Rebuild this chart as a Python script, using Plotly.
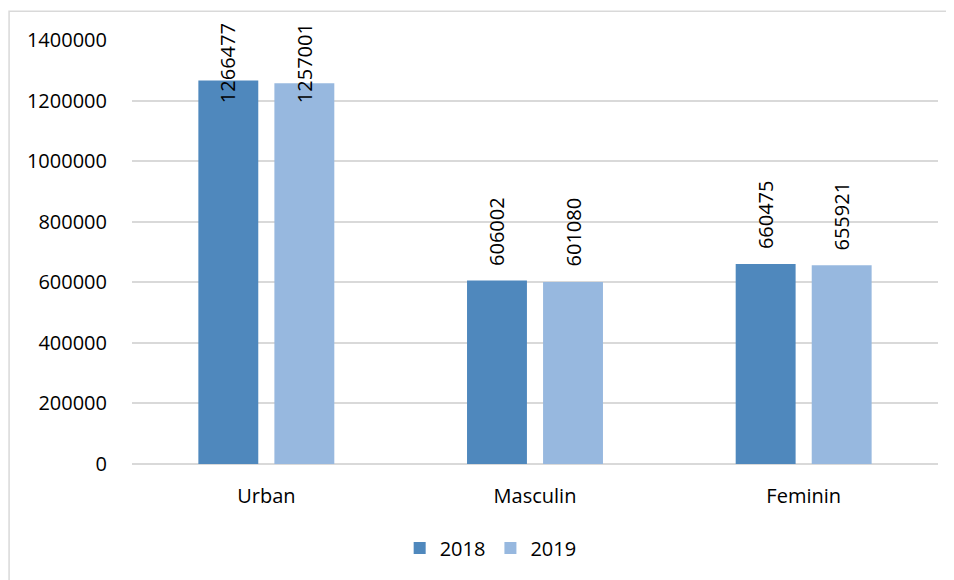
import plotly.graph_objects as go

categories = ["Urban", "Masculin", "Feminin"]
years = ["2018", "2019"]
values_2018 = [1266477, 606002, 660475]
values_2019 = [1257001, 601080, 655921]

colors = {"2018": "#4F88BD", "2019": "#97B8DF"}
FONT = "Open Sans, Liberation Sans, sans-serif"

# bar geometry in category units (one category = 1.0)
bar_width = 0.223
offsets = {"2018": -0.253, "2019": 0.030}

y_max = 1400000
# labels that would leave the chart are pushed back down (like excel does)
label_ceiling = 1143000

fig = go.Figure()
x_idx = list(range(len(categories)))

annotations = []
for year, vals in zip(years, [values_2018, values_2019]):
    fig.add_trace(go.Bar(
        x=x_idx,
        y=vals,
        name=year,
        width=bar_width,
        offset=offsets[year],
        marker=dict(color=colors[year], line=dict(width=0)),
        hoverinfo="y",
    ))
    for i, v in zip(x_idx, vals):
        annotations.append(dict(
            x=i + offsets[year] + bar_width / 2,
            y=min(v, label_ceiling),
            xref="x", yref="y",
            text=str(v),
            textangle=-90,
            showarrow=False,
            xanchor="center", yanchor="bottom",
            yshift=13,
            font=dict(family=FONT, size=20, color="#000000"),
        ))

# page has an 8px body margin, so the figure is a bit smaller than the window
fig.update_layout(
    width=946,
    height=572,
    barmode="overlay",
    paper_bgcolor="white",
    plot_bgcolor="white",
    margin=dict(l=124, r=16, t=32, b=116),
    font=dict(family=FONT, size=20, color="#000000"),
    showlegend=True,
    legend=dict(
        orientation="h",
        x=0.445, xanchor="center",
        y=-0.198, yanchor="middle",
        font=dict(size=20),
        itemwidth=30,
    ),
    annotations=annotations,
    shapes=[dict(
        type="rect", xref="paper", yref="paper",
        x0=-0.1525, x1=1.05, y0=-0.4, y1=1.068,
        line=dict(color="#D9D9D9", width=1.5),
        fillcolor="rgba(0,0,0,0)",
        layer="below",
    )],
)

fig.update_xaxes(
    range=[-0.5, 2.5],
    tickvals=x_idx,
    ticktext=categories,
    showgrid=False,
    showline=False,
    zeroline=False,
    ticks="",
    ticklabelstandoff=18,
    tickfont=dict(size=20),
)
fig.update_yaxes(
    range=[0, y_max],
    dtick=200000,
    tickformat="d",
    showgrid=True,
    gridcolor="#D9D9D9",
    gridwidth=1.5,
    zeroline=True,
    zerolinecolor="#D9D9D9",
    zerolinewidth=1.5,
    showline=False,
    ticks="",
    ticklabelstandoff=24,
    tickfont=dict(size=20),
)

fig.write_html("out.html")
